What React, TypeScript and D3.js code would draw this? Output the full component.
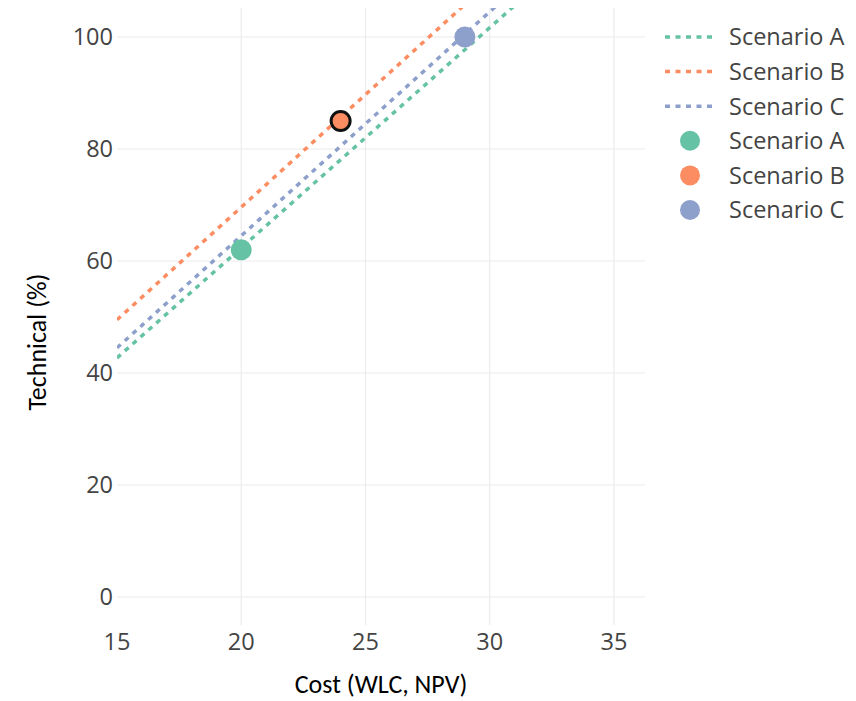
import React from 'react';
import * as d3 from 'd3';

const scenarios = ['Scenario A', 'Scenario B', 'Scenario C'];
const costValues = [20, 24, 29];
const technicalValues = [62, 85, 100];
// dotted reference lines, start / end point per scenario
const lineCost = [[15, 31], [15, 29], [15, 30.5]];
const lineTechnical = [[42.7, 105.6], [49.5, 105.8], [44.5, 106.5]];
const highlighted = [false, true, false];
const xTicks = [15, 20, 25, 30, 35];
const yTicks = [0, 20, 40, 60, 80, 100];

const colors = ['#66c2a5', '#fc8d62', '#8da0cb'];
const W = 856;
const H = 701;
const plot = { left: 117, right: 645, top: 8, bottom: 625 };
const tickFont = '"Open Sans", sans-serif';
const titleFont = 'Carlito, Calibri, Lato, sans-serif';

const App: React.FC = () => {
  const x = d3.scaleLinear().domain([15, 36.25]).range([plot.left, plot.right]);
  const y = d3.scaleLinear().domain([-5, 105.18]).range([plot.bottom, plot.top]);
  const line = d3.line<[number, number]>().x(d => x(d[0])).y(d => y(d[1]));

  const legendRows = [
    ...scenarios.map((s, i) => ({ name: s, kind: 'line', i })),
    ...scenarios.map((s, i) => ({ name: s, kind: 'marker', i })),
  ];

  return (
    <svg width={W} height={H} style={{ position: 'absolute', left: 0, top: 0, background: '#fff' }}>
      <defs>
        <clipPath id="plotclip">
          <rect x={plot.left} y={plot.top} width={plot.right - plot.left} height={plot.bottom - plot.top} />
        </clipPath>
      </defs>

      {/* grid */}
      <g stroke="#ebebeb" strokeWidth={1.2}>
        {xTicks.filter(t => x(t) > plot.left + 1).map(t => (
          <line key={'gx' + t} x1={x(t)} x2={x(t)} y1={plot.top} y2={plot.bottom} />
        ))}
        {yTicks.map(t => (
          <line key={'gy' + t} x1={plot.left} x2={plot.right} y1={y(t)} y2={y(t)} />
        ))}
      </g>

      {/* tick labels */}
      <g fontFamily={tickFont} fontSize={23.5} fill="#444">
        {xTicks.map(t => (
          <text key={'tx' + t} x={x(t)} y={650} textAnchor="middle">{t}</text>
        ))}
        {yTicks.map(t => (
          <text key={'ty' + t} x={113} y={y(t)} dy="0.36em" textAnchor="end">{t}</text>
        ))}
      </g>

      {/* dotted lines */}
      <g clipPath="url(#plotclip)" fill="none">
        {scenarios.map((s, i) => (
          <path
            key={'l' + s}
            d={line(lineCost[i].map((c, k) => [c, lineTechnical[i][k]] as [number, number])) || ''}
            stroke={colors[i]}
            strokeWidth={3.5}
            strokeDasharray="5,5.5"
          />
        ))}
      </g>

      {/* points */}
      <g>
        {scenarios.map((s, i) => (
          <circle
            key={'p' + s}
            cx={x(costValues[i])}
            cy={y(technicalValues[i])}
            r={highlighted[i] ? 9.5 : 10.5}
            fill={colors[i]}
            stroke={highlighted[i] ? '#111' : 'none'}
            strokeWidth={highlighted[i] ? 3 : 0}
          />
        ))}
      </g>

      {/* axis titles */}
      <text x={381} y={693} textAnchor="middle" fontFamily={titleFont} fontSize={26} fill="#000">
        Cost (WLC, NPV)
      </text>
      <text
        transform={`translate(46,342) rotate(-90)`}
        textAnchor="middle"
        fontFamily={titleFont}
        fontSize={26}
        fill="#000"
      >
        Technical (%)
      </text>

      {/* legend */}
      <g fontFamily={tickFont} fontSize={23.5} fill="#444">
        {legendRows.map((r, k) => {
          const cy = 37 + k * 34.6;
          return (
            <g key={'lg' + k}>
              {r.kind === 'line' ? (
                <line x1={665} x2={716} y1={cy} y2={cy} stroke={colors[r.i]} strokeWidth={3.5} strokeDasharray="5,5.5" />
              ) : (
                <circle cx={690} cy={cy} r={10} fill={colors[r.i]} />
              )}
              <text x={729} y={cy} dy="0.36em">{r.name}</text>
            </g>
          );
        })}
      </g>
    </svg>
  );
};

export default App;
